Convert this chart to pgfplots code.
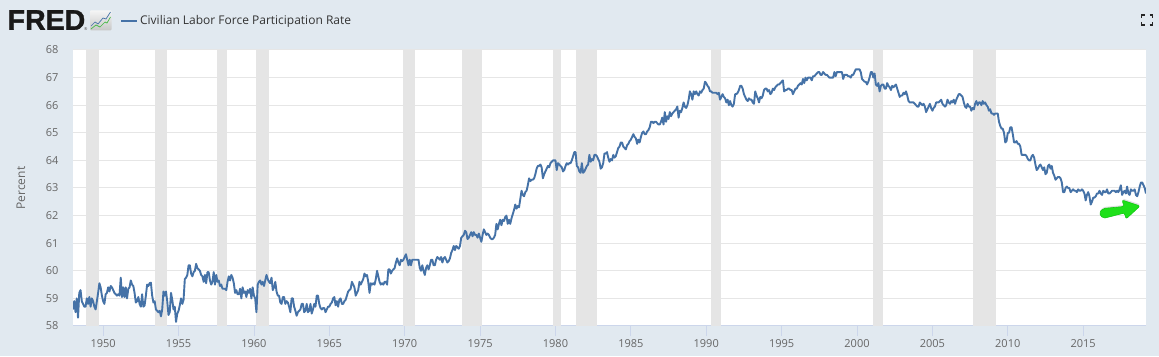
\documentclass[border=0pt]{standalone}
\usepackage{fontspec}
\setmainfont{Open Sans}
\newfontfamily\fredfont[BoldFeatures={FakeBold=1.2}]{Liberation Sans}
\usepackage{pgfplots}
\usepackage{pgfplotstable}
\pgfplotsset{compat=1.18}
\definecolor{fredbg}{HTML}{E1E9F0}
\definecolor{fredline}{HTML}{4572A7}
\definecolor{fredgrid}{HTML}{E6E6E6}
\definecolor{fredtick}{HTML}{CCD6EB}
\definecolor{fredtext}{HTML}{666666}
\definecolor{fredtitle}{HTML}{333333}
\definecolor{recess}{HTML}{E5E5E5}
\definecolor{arrowgreen}{HTML}{1FE01A}
\definecolor{arrowedge}{HTML}{12C812}
\pgfplotstableread[row sep=\\,header=false]{
58.6\\58.9\\58.5\\59.0\\58.3\\59.2\\59.3\\58.9\\58.8\\58.7\\58.7\\59.0\\
58.8\\59.05\\58.7\\59.0\\58.9\\58.7\\58.6\\58.9\\59.2\\59.55\\59.4\\59.1\\
58.9\\58.8\\59.15\\59.2\\59.4\\59.25\\59.45\\59.4\\59.3\\59.2\\59.15\\59.1\\
59.15\\59.1\\59.75\\59.05\\59.4\\59.05\\59.4\\59.0\\59.35\\59.4\\59.65\\59.5\\
59.45\\59.2\\58.85\\58.9\\59.05\\58.8\\58.7\\59.15\\58.7\\58.75\\59.1\\59.5\\
59.45\\59.55\\59.57\\59.1\\58.85\\58.9\\58.6\\58.55\\58.5\\58.55\\58.35\\58.6\\
59.25\\59.1\\59.25\\58.9\\58.4\\58.5\\59.2\\58.95\\58.6\\58.7\\58.15\\58.45\\
58.55\\58.75\\59.0\\58.8\\58.95\\59.7\\59.75\\59.85\\60.2\\60.2\\59.9\\59.8\\
59.95\\60.0\\60.25\\60.1\\60.05\\60.0\\59.85\\59.8\\59.6\\59.85\\59.55\\59.95\\
59.95\\59.65\\59.5\\59.6\\59.95\\59.5\\59.85\\59.6\\59.65\\59.45\\59.5\\59.35\\
59.35\\59.35\\59.3\\59.6\\59.8\\59.65\\59.85\\59.75\\59.55\\59.2\\59.3\\59.15\\
59.15\\59.35\\59.0\\59.4\\59.2\\59.25\\59.05\\59.3\\59.2\\59.35\\59.0\\59.4\\
59.1\\59.0\\58.5\\59.5\\59.6\\59.65\\59.5\\59.6\\59.45\\59.65\\59.85\\59.7\\
59.6\\59.55\\59.75\\59.3\\59.4\\59.6\\59.25\\59.1\\59.1\\58.85\\58.8\\59.05\\
59.05\\58.8\\58.9\\58.85\\58.7\\58.5\\59.0\\59.0\\58.7\\58.55\\58.37\\58.5\\
58.55\\58.6\\58.8\\58.8\\58.5\\58.55\\58.8\\58.5\\58.55\\58.8\\58.45\\58.6\\
58.8\\58.7\\59.1\\59.1\\58.8\\58.65\\58.6\\58.65\\58.65\\58.5\\58.6\\58.7\\
58.7\\58.8\\58.85\\59.0\\59.05\\58.75\\58.9\\58.7\\58.95\\59.0\\58.8\\58.8\\
58.9\\58.95\\59.1\\59.25\\59.3\\59.35\\59.6\\59.5\\59.4\\59.1\\59.2\\59.3\\
59.6\\59.5\\59.6\\59.7\\59.9\\59.8\\59.85\\59.6\\59.2\\59.55\\59.5\\59.55\\
59.5\\59.7\\60.0\\59.8\\59.6\\59.5\\59.55\\59.5\\59.6\\59.6\\59.5\\60.05\\
60.05\\59.9\\60.0\\60.05\\60.1\\60.3\\60.45\\60.3\\60.2\\60.4\\60.35\\60.4\\
60.5\\60.6\\60.4\\60.2\\60.4\\60.2\\60.4\\60.4\\60.4\\60.4\\60.4\\60.4\\
60.1\\60.0\\60.2\\60.0\\59.85\\60.1\\60.2\\60.05\\60.2\\60.4\\60.4\\60.2\\
60.2\\60.4\\60.5\\60.45\\60.4\\60.5\\60.3\\60.45\\60.5\\60.4\\60.3\\60.35\\
60.45\\60.65\\60.75\\60.9\\60.75\\60.9\\60.85\\60.8\\60.9\\61.2\\61.25\\61.3\\
61.45\\61.4\\61.15\\61.2\\61.3\\61.4\\61.25\\61.4\\61.3\\61.3\\61.2\\61.35\\
61.2\\61.05\\61.3\\61.5\\61.4\\61.3\\61.35\\61.3\\61.2\\61.15\\61.15\\61.2\\
61.3\\61.7\\61.5\\61.7\\61.85\\61.65\\61.85\\61.8\\61.95\\62.0\\61.7\\61.85\\
61.7\\61.9\\62.05\\62.2\\62.4\\62.25\\62.35\\62.3\\62.6\\62.9\\62.75\\62.7\\
62.85\\62.9\\63.1\\63.35\\63.25\\63.3\\63.3\\63.35\\63.5\\63.7\\63.8\\63.8\\
63.85\\63.75\\63.35\\63.5\\63.6\\63.7\\63.8\\63.75\\63.9\\63.95\\64.0\\64.0\\
64.0\\63.65\\63.9\\63.85\\63.8\\63.75\\63.6\\63.65\\63.8\\63.9\\63.85\\63.9\\
63.9\\64.0\\64.15\\64.3\\64.3\\63.8\\63.75\\63.6\\63.55\\63.9\\63.55\\63.6\\
63.7\\63.8\\63.85\\64.2\\63.95\\64.05\\64.0\\64.2\\64.2\\64.15\\64.05\\63.95\\
63.7\\63.75\\63.9\\64.25\\64.25\\64.3\\64.1\\63.95\\64.05\\64.0\\64.2\\64.1\\
64.15\\64.3\\64.45\\64.5\\64.65\\64.65\\64.5\\64.45\\64.4\\64.55\\64.6\\64.7\\
64.75\\64.85\\64.95\\64.85\\64.8\\64.6\\64.75\\64.65\\64.85\\65.0\\65.05\\64.95\\
64.95\\65.05\\65.1\\65.2\\65.4\\65.4\\65.35\\65.4\\65.4\\65.35\\65.3\\65.3\\
65.4\\65.55\\65.3\\65.75\\65.4\\65.6\\65.5\\65.75\\65.6\\65.7\\65.75\\65.8\\
65.85\\65.95\\65.55\\65.8\\65.75\\65.9\\66.1\\65.95\\65.9\\66.0\\66.2\\66.5\\
66.4\\66.2\\66.5\\66.4\\66.5\\66.4\\66.35\\66.5\\66.45\\66.55\\66.6\\66.85\\
66.8\\66.7\\66.65\\66.5\\66.5\\66.45\\66.45\\66.45\\66.45\\66.4\\66.45\\66.2\\
66.3\\66.4\\66.3\\66.25\\66.1\\66.2\\66.0\\66.15\\66.0\\65.95\\66.05\\66.4\\
66.4\\66.45\\66.55\\66.7\\66.7\\66.6\\66.4\\66.3\\66.2\\66.15\\66.25\\66.2\\
66.2\\66.1\\66.05\\66.5\\66.35\\66.25\\66.1\\66.3\\66.25\\66.35\\66.55\\66.6\\
66.6\\66.5\\66.55\\66.4\\66.45\\66.6\\66.55\\66.65\\66.7\\66.75\\66.75\\66.8\\
66.85\\66.9\\66.5\\66.55\\66.55\\66.6\\66.6\\66.55\\66.55\\66.4\\66.5\\66.6\\
66.6\\66.7\\66.75\\66.8\\66.75\\66.95\\66.8\\67.0\\66.9\\67.0\\67.0\\67.0\\
66.9\\67.05\\67.05\\67.1\\67.15\\67.2\\67.2\\67.1\\67.1\\67.2\\67.15\\67.1\\
67.1\\67.05\\67.0\\67.0\\67.0\\67.0\\67.2\\67.05\\67.2\\67.2\\67.2\\67.2\\
67.2\\66.95\\67.1\\67.1\\67.1\\67.05\\67.05\\67.0\\67.1\\67.1\\67.2\\67.3\\
67.3\\67.3\\67.3\\67.2\\66.95\\66.9\\66.85\\66.85\\66.75\\66.85\\67.0\\67.2\\
67.2\\67.0\\67.15\\66.75\\66.7\\66.8\\66.5\\66.7\\66.75\\66.75\\66.6\\66.6\\
66.8\\66.7\\66.65\\66.55\\66.7\\66.65\\66.7\\66.75\\66.6\\66.45\\66.3\\66.35\\
66.35\\66.45\\66.4\\66.5\\66.35\\66.15\\66.1\\66.1\\66.1\\66.1\\66.05\\66.0\\
65.95\\65.95\\66.1\\66.05\\66.0\\66.05\\65.95\\65.75\\65.85\\65.95\\66.05\\65.9\\
65.8\\65.9\\65.95\\66.1\\66.1\\66.1\\66.15\\66.2\\66.05\\66.0\\65.95\\66.0\\
66.2\\66.1\\66.05\\66.15\\66.1\\66.2\\66.05\\66.2\\66.3\\66.4\\66.4\\66.35\\
66.3\\66.1\\65.95\\65.9\\66.05\\65.95\\65.95\\65.8\\65.9\\65.85\\66.05\\66.15\\
66.0\\66.1\\66.1\\66.0\\66.15\\66.05\\66.1\\66.0\\65.95\\65.8\\65.85\\65.7\\
65.7\\65.65\\65.7\\65.7\\65.7\\65.4\\65.25\\65.15\\65.15\\65.0\\64.65\\64.7\\
65.0\\65.0\\65.2\\65.2\\64.95\\64.65\\64.65\\64.7\\64.6\\64.6\\64.5\\64.2\\
64.2\\64.2\\64.2\\64.15\\64.05\\64.0\\64.0\\64.15\\64.2\\64.1\\63.85\\63.65\\
63.7\\63.8\\63.85\\63.75\\63.65\\63.75\\63.5\\63.55\\63.8\\63.85\\63.7\\63.8\\
63.55\\63.45\\63.3\\63.35\\63.4\\63.4\\63.35\\63.2\\62.85\\62.85\\63.0\\63.05\\
63.0\\63.0\\62.85\\62.9\\62.95\\62.9\\62.9\\62.85\\62.95\\62.9\\62.9\\62.95\\
62.9\\62.8\\62.55\\62.75\\62.85\\62.7\\62.4\\62.5\\62.65\\62.65\\62.7\\62.8\\
62.8\\62.9\\62.8\\62.75\\62.9\\62.85\\62.85\\62.95\\62.8\\62.8\\62.85\\62.9\\
62.9\\62.9\\62.85\\62.9\\62.85\\62.95\\63.1\\62.75\\62.85\\62.9\\62.8\\63.05\\
62.8\\62.75\\62.95\\62.9\\62.9\\62.95\\62.75\\62.7\\62.85\\63.05\\63.2\\63.2\\
63.1\\63.0\\62.8\\
}\civpart
\begin{document}
\begin{tikzpicture}[x=1pt,y=1pt]
\useasboundingbox (0,0) rectangle (1159,356);
\fill[fredbg] (0,0) rectangle (1159,356);
\begin{axis}[
  at={(73pt,30pt)}, anchor=south west,
  scale only axis, width=1073pt, height=276pt,
  xmin=1948, xmax=2019.167, ymin=58, ymax=68,
  axis background/.style={fill=white},
  axis lines*=left,
  y axis line style={draw=none},
  x axis line style={draw=fredtick,line width=1pt,-},
  xtick={1950,1955,...,2015}, ytick={58,59,...,68},
  xtick style={draw=fredtick,line width=0.8pt},
  ytick style={draw=none},
  tick align=outside,
  major tick length=10pt,
  ymajorgrids,
  grid style={draw=fredgrid,line width=1pt},
  /pgf/number format/assume math mode=true,
  /pgf/number format/1000 sep={},
  x tick label style={font=\fontsize{11}{13}\selectfont,text=fredtext,/pgf/number format/fixed},
  y tick label style={font=\fontsize{11}{13}\selectfont,text=fredtext,xshift=-1pt},
  ylabel={Percent},
  every axis y label/.style={at={(axis description cs:0,0.5)},rotate=90,anchor=center,yshift=52pt,font=\fontsize{12}{14}\selectfont,text=fredtext},
  legend style={draw=none,fill=none,at={(0,1)},anchor=west,xshift=47pt,yshift=29pt,inner sep=0pt,
    font=\fontsize{12}{14}\selectfont,text=fredtitle,legend cell align=left,
    /tikz/every even column/.append style={column sep=2pt}},
  legend image code/.code={\draw[#1] (0pt,0pt) -- (16pt,0pt);},
]
\addplot[fill=recess,draw=none,forget plot] coordinates {(1948.83,58)(1948.83,68)(1949.70,68)(1949.70,58)} --cycle;
\addplot[fill=recess,draw=none,forget plot] coordinates {(1953.46,58)(1953.46,68)(1954.23,68)(1954.23,58)} --cycle;
\addplot[fill=recess,draw=none,forget plot] coordinates {(1957.53,58)(1957.53,68)(1958.19,68)(1958.19,58)} --cycle;
\addplot[fill=recess,draw=none,forget plot] coordinates {(1960.16,58)(1960.16,68)(1961.02,68)(1961.02,58)} --cycle;
\addplot[fill=recess,draw=none,forget plot] coordinates {(1969.87,58)(1969.87,68)(1970.68,68)(1970.68,58)} --cycle;
\addplot[fill=recess,draw=none,forget plot] coordinates {(1973.78,58)(1973.78,68)(1975.11,68)(1975.11,58)} --cycle;
\addplot[fill=recess,draw=none,forget plot] coordinates {(1979.86,58)(1979.86,68)(1980.39,68)(1980.39,58)} --cycle;
\addplot[fill=recess,draw=none,forget plot] coordinates {(1981.38,58)(1981.38,68)(1982.73,68)(1982.73,58)} --cycle;
\addplot[fill=recess,draw=none,forget plot] coordinates {(1990.34,58)(1990.34,68)(1991.00,68)(1991.00,58)} --cycle;
\addplot[fill=recess,draw=none,forget plot] coordinates {(2001.04,58)(2001.04,68)(2001.70,68)(2001.70,58)} --cycle;
\addplot[fill=recess,draw=none,forget plot] coordinates {(2007.72,58)(2007.72,68)(2009.24,68)(2009.24,58)} --cycle;
\addplot[color=fredline,line width=1.9pt,no markers,line join=round] table[x expr={1948+\coordindex/12},y index=0]{\civpart};
\addlegendentry{Civilian Labor Force Participation Rate}
\end{axis}
\begin{scope}[yshift=356pt,y=-1pt]
  % logo
  \node[anchor=west,inner sep=0pt,text=black!90] at (7.5,20) {\fontsize{28.5}{30}\fredfont\bfseries FRED};
  \node[anchor=west,inner sep=0pt,text=black!70] at (84,29.5) {\fontsize{4}{4}\selectfont ®};
  \shade[top color=white!96!black,bottom color=black!22,rounded corners=1pt] (90,10.5) rectangle (111.5,30.5);
  \draw[fredline,line width=0.7pt] (91,26) -- (95,22) -- (98,24) -- (103,18) -- (106,19) -- (110.5,12);
  \draw[green!45!gray,line width=0.7pt] (91,29) -- (96,25) -- (100,27) -- (105,22) -- (107,23) -- (110.5,17);
  % fullscreen icon
  \draw[black!85,line width=1.3pt] (1141.5,18) -- (1141.5,15) -- (1144.5,15);
  \draw[black!85,line width=1.3pt] (1149.5,15) -- (1152.5,15) -- (1152.5,18);
  \draw[black!85,line width=1.3pt] (1141.5,22) -- (1141.5,25) -- (1144.5,25);
  \draw[black!85,line width=1.3pt] (1149.5,25) -- (1152.5,25) -- (1152.5,22);
  % arrow
  \fill[black!20,opacity=.6,rounded corners=1.5pt,xshift=0.5pt,yshift=1.5pt] (1099,213) -- (1103,208.5) -- (1124,206.5) -- (1122,200) -- (1140,206) -- (1126,219) -- (1124.5,213) -- (1103,218.5) -- cycle;
  \draw[arrowedge,fill=arrowgreen,line width=0.6pt,rounded corners=2pt] (1099,213) -- (1103,208.5) -- (1124,206.5) -- (1122,200) -- (1140,206) -- (1126,219) -- (1124.5,213) -- (1103,218.5) -- cycle;
\end{scope}
\end{tikzpicture}
\end{document}
